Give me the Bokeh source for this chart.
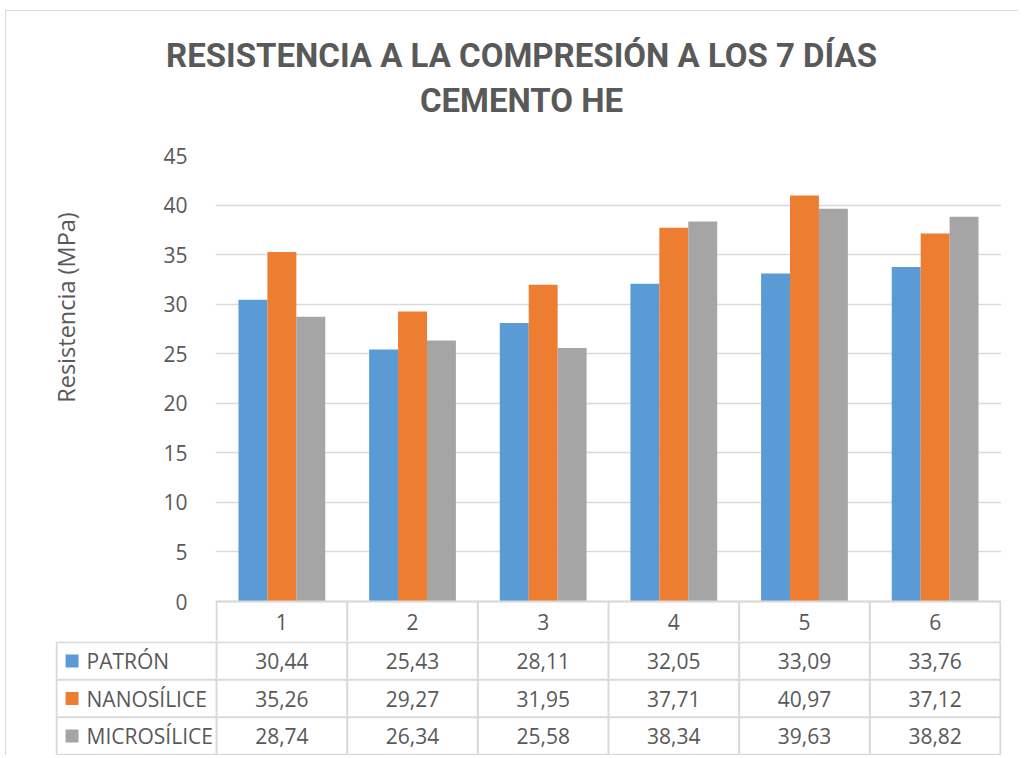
import math
from bokeh.plotting import figure
from bokeh.models import ColumnDataSource, Range1d, FixedTicker
from bokeh.layouts import column, row
from bokeh.embed import file_html
from bokeh.resources import INLINE
from bokeh.core.properties import value

# ---------------- data ----------------
categories = ["1", "2", "3", "4", "5", "6"]
series_names = ["PATRÓN", "NANOSÍLICE", "MICROSÍLICE"]
patron = [30.44, 25.43, 28.11, 32.05, 33.09, 33.76]
nanosilice = [35.26, 29.27, 31.95, 37.71, 40.97, 37.12]
microsilice = [28.74, 26.34, 25.58, 38.34, 39.63, 38.82]
y_tick_values = [0, 5, 10, 15, 20, 25, 30, 35, 40, 45]

title_line1 = "RESISTENCIA A LA COMPRESIÓN A LOS 7 DÍAS"
title_line2 = "CEMENTO HE"
y_label = "Resistencia (MPa)"

# ---------------- styles / layout ----------------
colors = ["#5B9BD5", "#ED7D31", "#A5A5A5"]
text_color = "#595959"
grid_color = "#D9D9D9"
body_font = "Open Sans"
title_font = "Roboto"

W = 1012               # total width
HEAD_H = 130           # title band height
LABEL_W = 100          # band holding the vertical axis title
FRAME_W = 786          # px, plot area width
PLOT_H = 446           # px, value area height
HEADER_H = 40          # px, category row of the data table
ROW_H = 38             # px, each series row of the data table
LABEL_COL_W = 160      # px, label column of the data table
TOP_PAD = 14
BAR_W = 0.2214
e = 0.008              # small padding so edge lines are not clipped

n_cat = len(categories)
n_ser = len(series_names)
y_max = max(y_tick_values)
series_values = [patron, nanosilice, microsilice]

scale = FRAME_W / (n_cat + 2 * e)          # px per category unit
L = LABEL_COL_W / scale                    # label column width in category units
header_units = HEADER_H * y_max / PLOT_H   # header row height in value units


def bare(fig):
    fig.frame_align = False
    fig.outline_line_color = None
    fig.xgrid.visible = False
    fig.ygrid.visible = False
    fig.border_fill_color = "white"
    fig.background_fill_color = "white"


# ---------------- title band ----------------
h = figure(width=W, height=HEAD_H, x_range=Range1d(0, W), y_range=Range1d(HEAD_H, 0),
           output_backend="svg", toolbar_location=None, x_axis_location=None,
           y_axis_location=None, min_border=0)
bare(h)
h.text(x=[515, 515], y=[44, 89], text=[title_line1, title_line2],
       text_align="center", text_baseline="middle", text_color=text_color,
       text_font=value(title_font), text_font_size="33px", text_font_style="bold")

# ---------------- vertical axis title band ----------------
CH_H = TOP_PAD + PLOT_H + HEADER_H
a = figure(width=LABEL_W, height=CH_H, x_range=Range1d(0, LABEL_W),
           y_range=Range1d(CH_H, 0), output_backend="svg", toolbar_location=None,
           x_axis_location=None, y_axis_location=None, min_border=0)
bare(a)
a.text(x=[59], y=[166], text=[y_label], angle=math.pi / 2, text_align="center",
       text_baseline="middle", text_color=text_color, text_font=value(body_font),
       text_font_size="23.5px")

# ---------------- chart (with category header row) ----------------
p = figure(width=W - LABEL_W, height=CH_H,
           x_range=Range1d(-e, n_cat + e),
           y_range=Range1d(-header_units, y_max),
           output_backend="svg", toolbar_location=None, x_axis_location=None,
           min_border_left=215 - 6 - LABEL_W, min_border_right=17,
           min_border_top=TOP_PAD, min_border_bottom=0)
p.frame_align = False
p.outline_line_color = None
p.background_fill_color = "white"
p.border_fill_color = "white"

offsets = [-BAR_W, 0.0, BAR_W]
for vals, off, c, name in zip(series_values, offsets, colors, series_names):
    src = ColumnDataSource(dict(x=[k + 0.5 + off for k in range(n_cat)], top=vals,
                                cat=categories))
    p.vbar(x="x", top="top", width=BAR_W, source=src, fill_color=c, line_color=None)

p.xgrid.visible = False
p.ygrid.grid_line_color = grid_color
p.ygrid.grid_line_width = 1.5
p.yaxis.ticker = FixedTicker(ticks=y_tick_values)
p.yaxis.axis_line_color = None
p.yaxis.major_tick_line_color = None
p.yaxis.minor_tick_line_color = None
p.yaxis.major_label_text_color = text_color
p.yaxis.major_label_text_font = body_font
p.yaxis.major_label_text_font_size = "21px"
p.yaxis.major_label_standoff = 22

# header row of the data table
p.segment(x0=[0], x1=[n_cat], y0=[0], y1=[0], line_color=grid_color, line_width=2)
p.segment(x0=list(range(n_cat + 1)), x1=list(range(n_cat + 1)),
          y0=[0] * (n_cat + 1), y1=[-header_units] * (n_cat + 1),
          line_color=grid_color, line_width=2)
p.text(x=[k + 0.5 for k in range(n_cat)], y=[-header_units / 2] * n_cat,
       text=categories, text_align="center", text_baseline="middle",
       text_color=text_color, text_font=value(body_font), text_font_size="21px")

# ---------------- data table rows ----------------
t = figure(width=W, height=ROW_H * n_ser, x_range=Range1d(-L - e, n_cat + e),
           y_range=Range1d(n_ser + 0.02, -0.02), output_backend="svg",
           toolbar_location=None, x_axis_location=None, y_axis_location=None,
           min_border_left=49, min_border_right=17, min_border_top=0,
           min_border_bottom=0)
bare(t)

rows = list(range(n_ser + 1))
t.segment(x0=[-L] * len(rows), x1=[n_cat] * len(rows), y0=rows, y1=rows,
          line_color=grid_color, line_width=2)
vx = [-L] + list(range(n_cat + 1))
t.segment(x0=vx, x1=vx, y0=[0] * len(vx), y1=[n_ser] * len(vx),
          line_color=grid_color, line_width=2)

vxs, vys, vtxt = [], [], []
for r, vals in enumerate(series_values):
    for k, v in enumerate(vals):
        vxs.append(k + 0.5)
        vys.append(r + 0.5)
        vtxt.append(f"{v:.2f}".replace(".", ","))
t.text(x=vxs, y=vys, text=vtxt, text_align="center", text_baseline="middle",
       text_color=text_color, text_font=value(body_font), text_font_size="21px")

row_mid = [r + 0.5 for r in range(n_ser)]
t.rect(x=[-L + 15.5 / scale] * n_ser, y=row_mid, width=13, height=13,
       width_units="screen", height_units="screen", fill_color=colors,
       line_color=None)
t.text(x=[-L] * n_ser, y=row_mid, text=series_names, x_offset=30,
       text_align="left", text_baseline="middle", text_color=text_color,
       text_font=value(body_font), text_font_size="21px")

layout = column(h, row(a, p, spacing=0), t, spacing=0,
                styles={"margin-left": "5px", "margin-top": "10px",
                        "border-left": "1px solid #D9D9D9",
                        "border-top": "1px solid #D9D9D9"})

open("out.html", "w").write(file_html(layout, INLINE))
